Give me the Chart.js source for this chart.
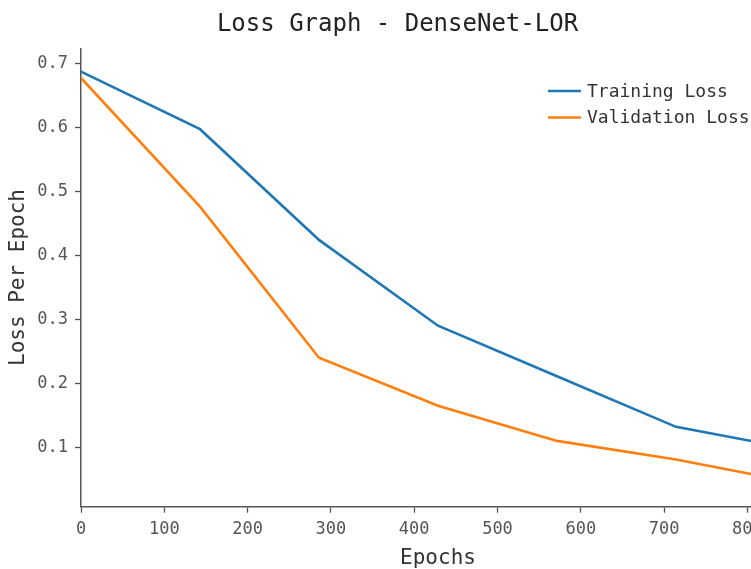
<!DOCTYPE html>
<html>
<head>
<meta charset="utf-8">
<script src="https://cdn.jsdelivr.net/npm/chart.js@4"></script>
<style>
html,body{margin:0;padding:0;overflow:hidden;background:#fff;width:751px;height:569px;}
canvas{display:block;}
</style>
</head>
<body>
<canvas id="c" width="800" height="569"></canvas>
<script>
const epochs = [0, 142.86, 285.71, 428.57, 571.43, 714.29, 857.14];
const trainingLoss = [0.687, 0.597, 0.424, 0.290, 0.211, 0.132, 0.097];
const validationLoss = [0.677, 0.476, 0.240, 0.165, 0.110, 0.081, 0.045];
const xTicks = [0, 100, 200, 300, 400, 500, 600, 700, 800];
const yTicks = [0.1, 0.2, 0.3, 0.4, 0.5, 0.6, 0.7];
const seriesLabels = ['Training Loss', 'Validation Loss'];
const seriesColors = ['#1f77b4', '#ff7f0e'];

const FONT = '"DejaVu Sans Mono", monospace';

const legendPlugin = {
  id: 'insideLegend',
  afterDraw(chart) {
    const ctx = chart.ctx;
    ctx.save();
    ctx.font = '18px ' + FONT;
    ctx.textBaseline = 'middle';
    ctx.textAlign = 'left';
    chart.data.datasets.forEach((ds, i) => {
      const y = 91 + i * 26.5;
      ctx.strokeStyle = ds.borderColor;
      ctx.lineWidth = 2.6;
      ctx.beginPath();
      ctx.moveTo(548, y);
      ctx.lineTo(581, y);
      ctx.stroke();
      ctx.fillStyle = '#333';
      ctx.fillText(ds.label, 587, y + 1);
    });
    ctx.restore();
  }
};

const mk = (ys) => epochs.map((x, i) => ({x: x, y: ys[i]}));

new Chart(document.getElementById('c'), {
  type: 'line',
  data: {
    datasets: [
      {label: seriesLabels[0], data: mk(trainingLoss), borderColor: seriesColors[0], borderWidth: 2.6, pointRadius: 0, tension: 0, fill: false},
      {label: seriesLabels[1], data: mk(validationLoss), borderColor: seriesColors[1], borderWidth: 2.6, pointRadius: 0, tension: 0, fill: false}
    ]
  },
  options: {
    responsive: false,
    animation: false,
    layout: {padding: {left: 0, right: 5, top: 0, bottom: 0}},
    plugins: {
      legend: {display: false},
      tooltip: {enabled: false},
      title: {
        display: true,
        text: 'Loss Graph - DenseNet-LOR',
        color: '#222',
        font: {family: FONT, size: 24, weight: 'normal', lineHeight: 1.2},
        padding: {top: 10, bottom: 9.5}
      }
    },
    scales: {
      x: {
        type: 'linear',
        min: 0,
        max: 857.14,
        afterBuildTicks: (s) => { s.ticks = xTicks.map(v => ({value: v})); },
        afterFit: (s) => { s.height = 62.3; },
        grid: {display: true, drawOnChartArea: false, drawTicks: true, tickLength: 6, color: '#555', tickWidth: 1.3},
        border: {display: true, color: '#555', width: 1.5},
        ticks: {color: '#555', font: {family: FONT, size: 17}, padding: 7, maxRotation: 0,
          callback: (v) => String(v)},
        title: {display: true, text: 'Epochs', color: '#333', font: {family: FONT, size: 21, lineHeight: 1.0}, padding: {top: 0, bottom: 0}}
      },
      y: {
        type: 'linear',
        min: 0.0072,
        max: 0.7234,
        afterBuildTicks: (s) => { s.ticks = yTicks.map(v => ({value: v})); },
        afterFit: (s) => { s.width = 81; },
        grid: {display: true, drawOnChartArea: false, drawTicks: true, tickLength: 6, color: '#555', tickWidth: 1.3},
        border: {display: true, color: '#555', width: 1.5},
        ticks: {color: '#555', font: {family: FONT, size: 17}, padding: 7,
          callback: (v) => Number(v).toFixed(1)},
        title: {display: true, text: 'Loss Per Epoch', color: '#333', font: {family: FONT, size: 21, lineHeight: 1.0}, padding: {top: 8, bottom: 0}}
      }
    }
  },
  plugins: [legendPlugin]
});
</script>
</body>
</html>
